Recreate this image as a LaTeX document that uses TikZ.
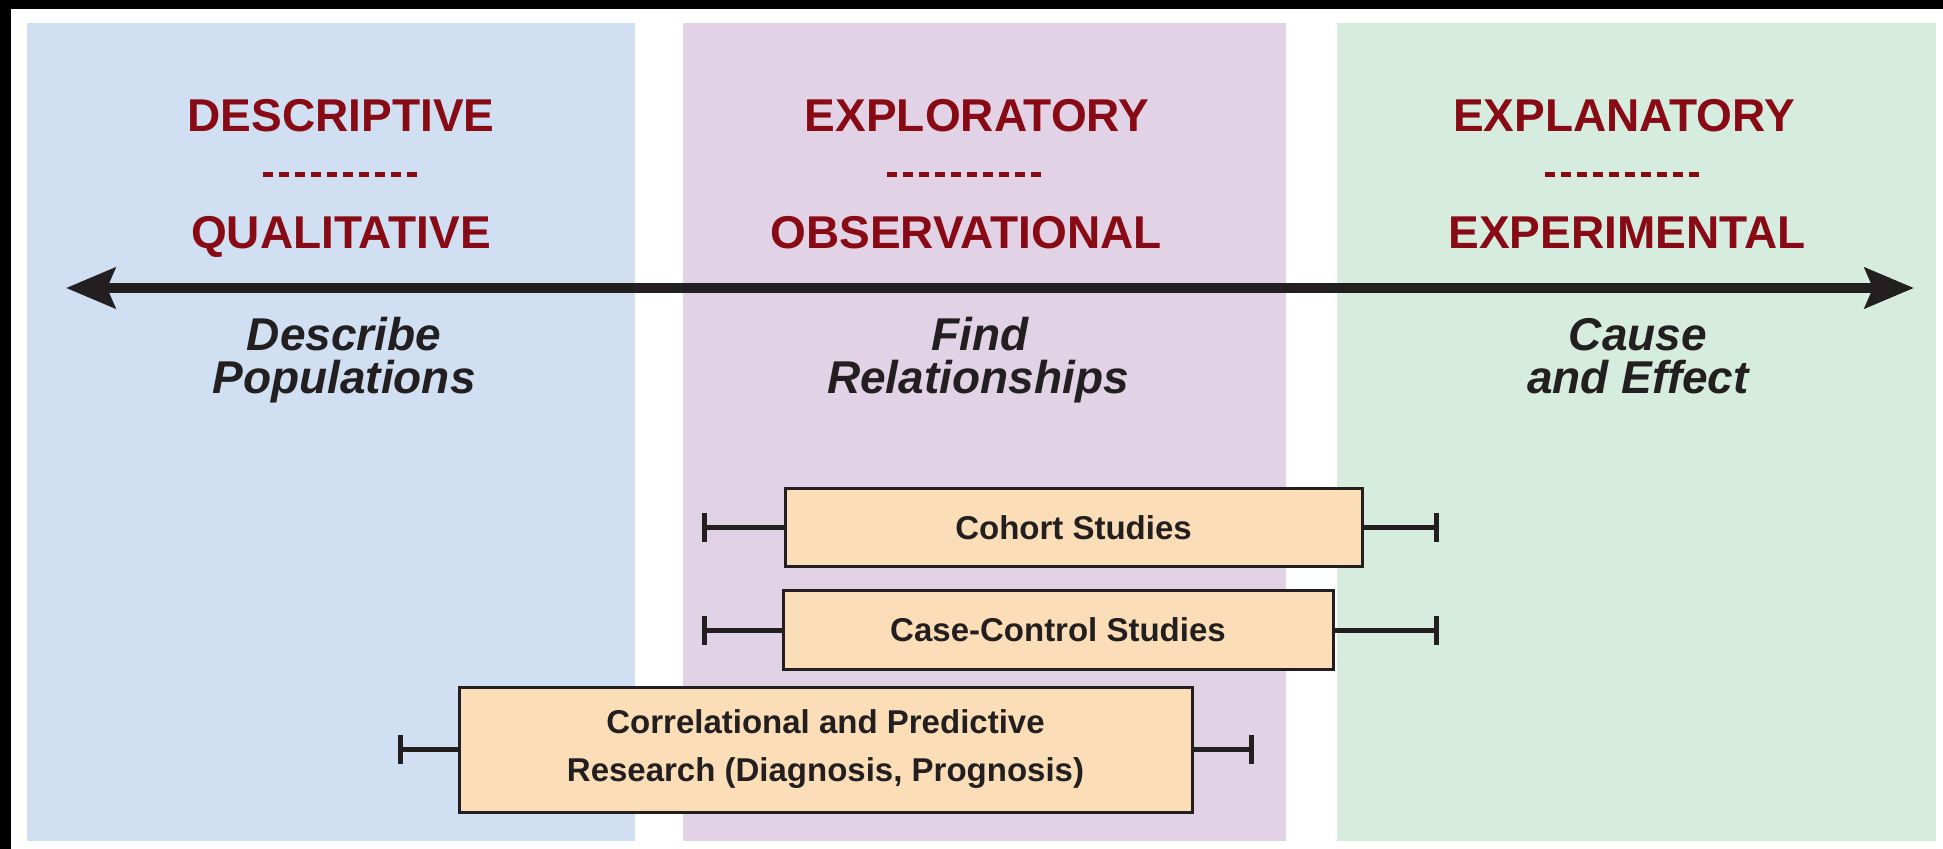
\documentclass[tikz,border=0pt]{standalone}
\usepackage{fontspec}
\setmainfont{Liberation Sans}
\usetikzlibrary{arrows.meta}
\definecolor{hred}{RGB}{136,10,20}
\definecolor{ink}{RGB}{35,31,32}
\definecolor{pblue}{RGB}{208,224,242}
\definecolor{ppurple}{RGB}{226,210,230}
\definecolor{pgreen}{RGB}{214,236,223}
\definecolor{peach}{RGB}{251,222,184}
\begin{document}
\begin{tikzpicture}[x=0.5pt,y=-0.5pt,
  head/.style={anchor=base, text=hred, font=\fontsize{23}{27}\selectfont\bfseries, inner sep=0pt},
  sub/.style={anchor=base, text=ink, font=\fontsize{23}{26}\selectfont\bfseries\itshape, inner sep=0pt},
  dotline/.style={draw=hred, line width=2.5pt, dash pattern=on 5pt off 3pt},
  study/.style={draw=ink, line width=1.5pt, fill=peach, text=ink, font=\fontsize{16.5}{24}\selectfont\bfseries, align=center, inner sep=0pt},
  whisk/.style={draw=ink, line width=2.5pt, -{Bar[width=14.5pt]}},
  axis/.style={draw=ink, line width=5pt, {Stealth[length=24.5pt,width=20pt,inset=4pt]}-{Stealth[length=24.5pt,width=20pt,inset=4pt]}},
]
\useasboundingbox (0,0) rectangle (1943,849);
\fill[white] (0,0) rectangle (1943,849);
\fill[black] (0,0) rectangle (11,849);
\fill[black] (0,0) rectangle (1943,9);
% panels
\fill[pblue] (27,23) rectangle (635,841);
\fill[ppurple] (683,23) rectangle (1286,841);
\fill[pgreen] (1337,23) rectangle (1936,841);
% axis
\coordinate (axL) at (66,288);
\coordinate (axR) at (1914,288);
\draw[axis] (axL) -- (axR);
% blue column
\node[head] (h1) at (341,132) {DESCRIPTIVE};
\draw[dotline] (263,175) -- (420,175);
\node[head] (h2) at (341,249) {QUALITATIVE};
\node[sub] (d1) at (344,351) {Describe};
\node[sub] (d2) at (344,394) {Populations};
% purple column
\node[head] (h3) at (977,132) {EXPLORATORY};
\draw[dotline] (887,175) -- (1046,175);
\node[head] (h4) at (966,249) {OBSERVATIONAL};
\node[sub] (f1) at (980,351) {Find};
\node[sub] (f2) at (978,394) {Relationships};
% green column
\node[head] (h5) at (1624,132) {EXPLANATORY};
\draw[dotline] (1545,175) -- (1702,175);
\node[head] (h6) at (1627,249) {EXPERIMENTAL};
\node[sub] (c1) at (1638,351) {Cause};
\node[sub] (c2) at (1638,394) {and Effect};
% study boxes
\node[study, minimum width=288.5pt, minimum height=39pt] (cohort) at (1073.5,528) {Cohort Studies};
\node[study, minimum width=275pt, minimum height=39pt] (cc) at (1058,630) {Case-Control Studies};
\node[study, minimum width=366.5pt, minimum height=62.5pt] (corr) at (825.5,749.5) {Correlational and Predictive\\Research (Diagnosis, Prognosis)};
% whisker ends
\coordinate (coL) at (702,528);
\coordinate (coR) at (1439,528);
\coordinate (ccL) at (702,630);
\coordinate (ccR) at (1439,630);
\coordinate (crL) at (398,749.5);
\coordinate (crR) at (1254,749.5);
\draw[whisk] (cohort.west) -- (coL);
\draw[whisk] (cohort.east) -- (coR);
\draw[whisk] (cc.west) -- (ccL);
\draw[whisk] (cc.east) -- (ccR);
\draw[whisk] (corr.west) -- (crL);
\draw[whisk] (corr.east) -- (crR);
\end{tikzpicture}
\end{document}
